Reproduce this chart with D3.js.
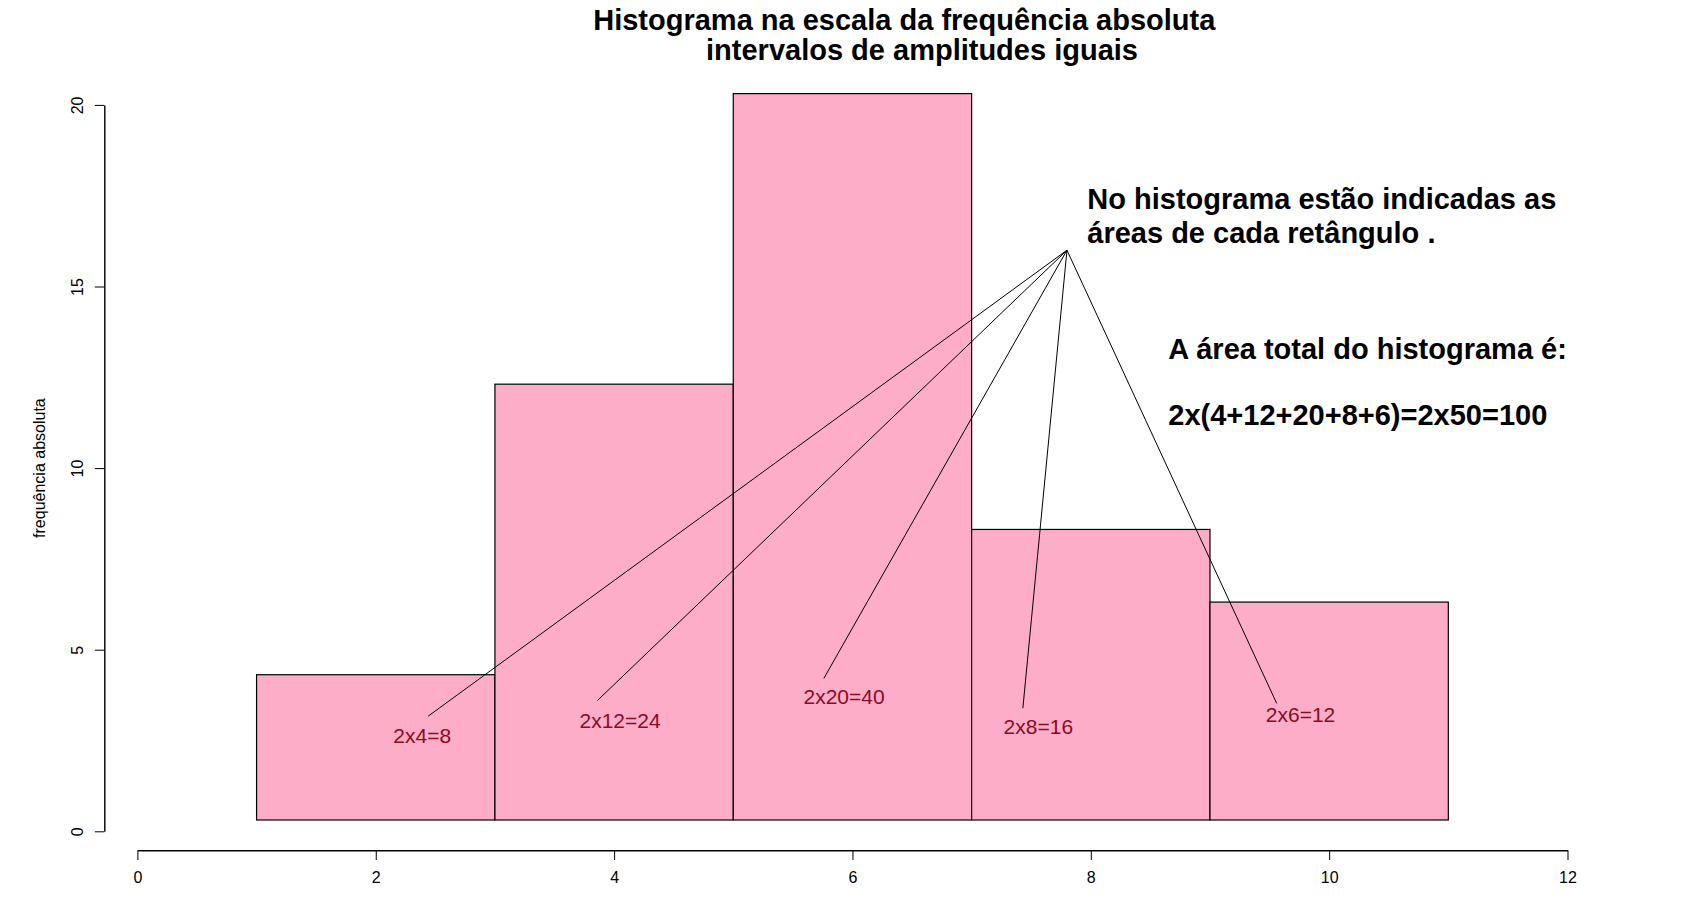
<!DOCTYPE html>
<html>
<head>
<meta charset="utf-8">
<script src="https://cdn.jsdelivr.net/npm/d3@7"></script>
<style>
  html, body { margin: 0; padding: 0; background: #ffffff; }
  svg { display: block; font-family: "Liberation Sans", Arial, sans-serif; }
</style>
</head>
<body>
<svg id="chart" width="1695" height="897"></svg>
<script>
// ---- data ----
const breaks = [1, 3, 5, 7, 9, 11];
const frequencies = [4, 12, 20, 8, 6];
const areaLabels = ["2x4=8", "2x12=24", "2x20=40", "2x8=16", "2x6=12"];
// label anchor (centre) in data coordinates
const labelX = [2.39, 4.05, 5.93, 7.56, 9.76];
const labelY = [2.64, 3.05, 3.71, 2.88, 3.21];
// leader-line end points near the labels, in data coordinates
const lineEndX = [2.44, 3.86, 5.76, 7.43, 9.56];
const lineEndY = [3.17, 3.60, 4.21, 3.39, 3.52];
// common point where all leader lines meet
const hubX = 7.8, hubY = 16;
const xTicks = [0, 2, 4, 6, 8, 10, 12];
const yTicks = [0, 5, 10, 15, 20];
const titleLines = ["Histograma na escala da frequência absoluta", "intervalos de amplitudes iguais"];
const yLabel = "frequência absoluta";
const noteLines = ["No histograma estão indicadas as", "áreas de cada retângulo ."];
const totalLines = ["A área total do histograma é:", "2x(4+12+20+8+6)=2x50=100"];

// ---- layout ----
const svg = d3.select("#chart");
const x = d3.scaleLinear().domain([0, 12]).range([137.4, 1567.5]);
const y = d3.scaleLinear().domain([0, 20]).range([831.3, 104.9]);
const barShift = -11.3; // the bars sit slightly above the axis zero in the original

// bars
const bins = frequencies.map((f, i) => ({ x0: breaks[i], x1: breaks[i + 1], f }));
svg.append("g")
  .attr("transform", `translate(0,${barShift})`)
  .selectAll("rect")
  .data(bins)
  .enter().append("rect")
  .attr("x", d => x(d.x0))
  .attr("y", d => y(d.f))
  .attr("width", d => x(d.x1) - x(d.x0))
  .attr("height", d => y(0) - y(d.f))
  .attr("fill", "#fdadc8")
  .attr("stroke", "#000")
  .attr("stroke-width", 1.2);

// leader lines
svg.append("g").selectAll("line")
  .data(lineEndX.map((v, i) => ({ x: v, y: lineEndY[i] })))
  .enter().append("line")
  .attr("x1", x(hubX)).attr("y1", y(hubY))
  .attr("x2", d => x(d.x)).attr("y2", d => y(d.y))
  .attr("stroke", "#000").attr("stroke-width", 1);

// area labels
svg.append("g").selectAll("text")
  .data(areaLabels.map((t, i) => ({ t, x: labelX[i], y: labelY[i] })))
  .enter().append("text")
  .attr("x", d => x(d.x)).attr("y", d => y(d.y))
  .attr("dy", "0.36em")
  .attr("text-anchor", "middle")
  .attr("font-size", 21)
  .attr("fill", "#8c0a22")
  .text(d => d.t);

// x axis
const xAxis = svg.append("g")
  .attr("transform", "translate(0,850.3)")
  .call(d3.axisBottom(x).tickValues(xTicks).tickFormat(d3.format("d")).tickSize(9.7).tickSizeOuter(0).tickPadding(12));
xAxis.select(".domain").attr("stroke", "#000").attr("stroke-width", 1.4);
xAxis.selectAll(".tick line").attr("stroke", "#000").attr("stroke-width", 1);
xAxis.selectAll(".tick text").attr("font-size", 16).attr("fill", "#000")
  .attr("font-family", "Liberation Sans, Arial, sans-serif");

// y axis
const yAxis = svg.append("g")
  .attr("transform", "translate(104.3,0)")
  .call(d3.axisLeft(y).tickValues(yTicks).tickFormat(d3.format("d")).tickSize(9.5).tickSizeOuter(0));
yAxis.select(".domain").attr("stroke", "#000").attr("stroke-width", 1.4);
yAxis.selectAll(".tick line").attr("stroke", "#000").attr("stroke-width", 1);
yAxis.selectAll(".tick text")
  .attr("font-size", 16).attr("fill", "#000")
  .attr("font-family", "Liberation Sans, Arial, sans-serif")
  .attr("x", null).attr("dy", null)
  .attr("text-anchor", "middle")
  .attr("dominant-baseline", "central")
  .attr("transform", "translate(-27,0) rotate(-90)");

// y label
svg.append("text")
  .attr("transform", `translate(39,${y(10)}) rotate(-90)`)
  .attr("text-anchor", "middle")
  .attr("dominant-baseline", "central")
  .attr("font-size", 16)
  .text(yLabel);

// title
svg.append("text").attr("x", 904.3).attr("y", 30).attr("text-anchor", "middle")
  .attr("font-size", 29).attr("font-weight", "bold").text(titleLines[0]);
svg.append("text").attr("x", 922).attr("y", 60).attr("text-anchor", "middle")
  .attr("font-size", 29).attr("font-weight", "bold").text(titleLines[1]);

// notes
svg.append("text").attr("x", 1087.3).attr("y", 209)
  .attr("font-size", 29).attr("font-weight", "bold").text(noteLines[0]);
svg.append("text").attr("x", 1087.3).attr("y", 243.3)
  .attr("font-size", 29).attr("font-weight", "bold").text(noteLines[1]);
svg.append("text").attr("x", 1168.3).attr("y", 359.3)
  .attr("font-size", 29).attr("font-weight", "bold").text(totalLines[0]);
svg.append("text").attr("x", 1168.3).attr("y", 425)
  .attr("font-size", 29).attr("font-weight", "bold").text(totalLines[1]);
</script>
</body>
</html>
